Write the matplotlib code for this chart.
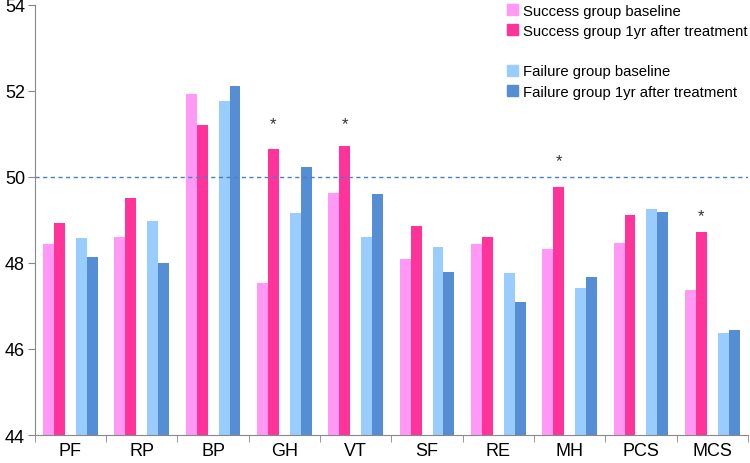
import matplotlib
matplotlib.use('Agg')
import matplotlib.pyplot as plt
from matplotlib.patches import Patch
import numpy as np

plt.rcParams['font.family'] = ['Liberation Sans', 'DejaVu Sans']

categories = ['PF', 'RP', 'BP', 'GH', 'VT', 'SF', 'RE', 'MH', 'PCS', 'MCS']
success_base = [48.43, 48.60, 51.92, 47.53, 49.62, 48.10, 48.43, 48.33, 48.46, 47.38]
success_1yr = [48.93, 49.50, 51.20, 50.64, 50.72, 48.85, 48.60, 49.76, 49.12, 48.72]
failure_base = [48.57, 48.97, 51.77, 49.17, 48.60, 48.38, 47.77, 47.42, 49.26, 46.38]
failure_1yr = [48.15, 48.00, 52.12, 50.23, 49.60, 47.80, 47.10, 47.67, 49.19, 46.43]
series_labels = ['Success group baseline', 'Success group 1yr after treatment',
                 'Failure group baseline', 'Failure group 1yr after treatment']
colors = ['#FF99F5', '#FF3399', '#99CCFF', '#558ED5']

# asterisks above the success-1yr bars
star_cats = ['GH', 'VT', 'MH', 'MCS']
star_y = [51.25, 51.25, 50.37, 49.10]

fig = plt.figure(figsize=(7.5, 4.64), dpi=100)
ax = fig.add_axes([0.0463, 0.0603, 0.951, 0.927])

x = np.arange(len(categories))
w = 0.154
offsets = [-2 * w, -w, w, 2 * w]
data = [success_base, success_1yr, failure_base, failure_1yr]
for vals, off, c in zip(data, offsets, colors):
    ax.bar(x + off, np.array(vals) - 44, bottom=44, width=w, color=c, linewidth=0)

for cat, yy in zip(star_cats, star_y):
    i = categories.index(cat)
    ax.text(i - w, yy, '*', ha='center', va='center', fontsize=12, color='#333333')

# reference line at 50
ax.axhline(50, color='#4A7EC8', linestyle=(0, (3, 2.5)), linewidth=1.0)

ax.set_xlim(-0.5, len(categories) - 0.5)
ax.set_ylim(44, 54)
ax.set_yticks(range(44, 55, 2))
ax.set_xticks(x)
ax.set_xticklabels(categories, fontsize=13)
ax.set_xticks(np.arange(-0.5, len(categories), 1), minor=True)
ax.tick_params(axis='x', which='major', length=0, pad=5)
ax.tick_params(axis='x', which='minor', length=5, color='#888888')
ax.tick_params(axis='y', length=5, color='#888888', labelsize=13, pad=2)
for s in ['top', 'right']:
    ax.spines[s].set_visible(False)
for s in ['left', 'bottom']:
    ax.spines[s].set_color('#888888')

handles = [Patch(color=colors[0]), Patch(color=colors[1]), Patch(visible=False),
           Patch(color=colors[2]), Patch(color=colors[3])]
labels = [series_labels[0], series_labels[1], '', series_labels[2], series_labels[3]]
fig.legend(handles, labels, loc='upper left', bbox_to_anchor=(0.676, 0.99),
           frameon=False, fontsize=10.7, handlelength=0.75, handleheight=0.75,
           handletextpad=0.3, labelspacing=0.42, borderpad=0.0, borderaxespad=0.0)

fig.savefig('out.png', dpi=100)
